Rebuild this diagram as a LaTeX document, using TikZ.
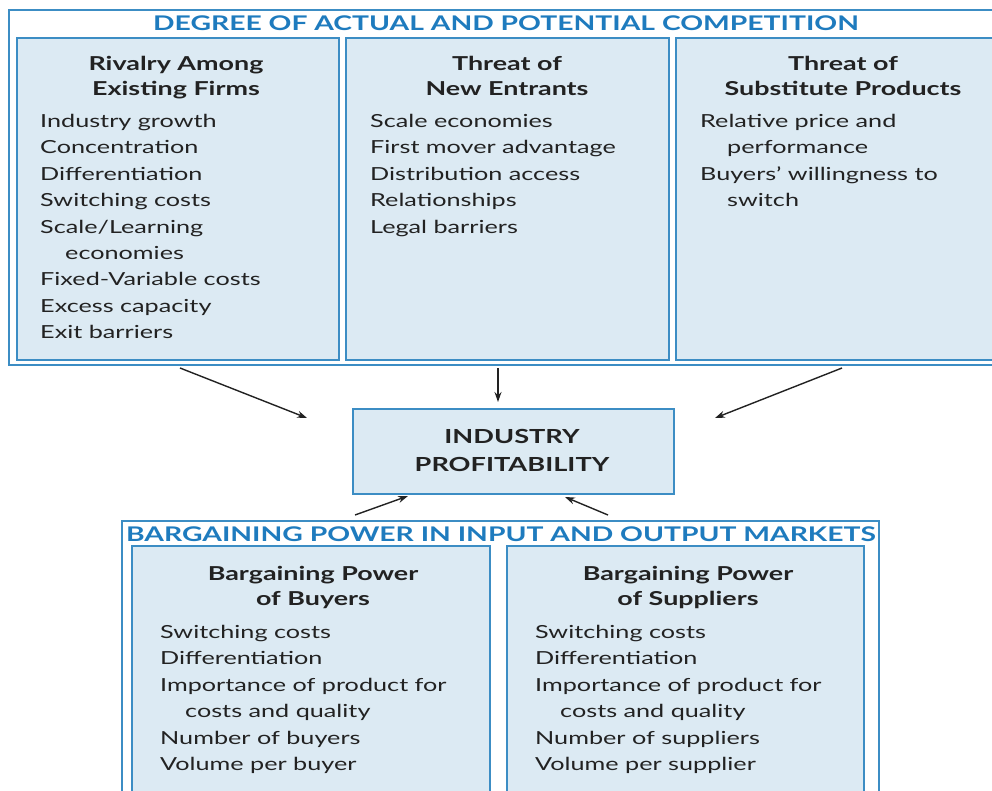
\documentclass[tikz,border=0pt]{standalone}
\usepackage{fontspec}
\setmainfont{Lato}[FakeStretch=1.4]
\usetikzlibrary{arrows.meta}

\definecolor{frameblue}{HTML}{3C8DC4}
\definecolor{headblue}{HTML}{1E7BBE}
\definecolor{panel}{HTML}{DCEAF3}
\definecolor{ink}{HTML}{222222}

\tikzset{
  outerframe/.style={draw=frameblue, line width=2.4pt, fill=white, inner sep=0pt, anchor=north west},
  panelbox/.style={draw=frameblue, line width=2pt, fill=panel, inner sep=0pt, anchor=north west},
  heading/.style={text=headblue, font=\fontsize{20.2}{22}\selectfont\bfseries, inner sep=0pt},
  paneltitle/.style={text=ink, font=\fontsize{19.2}{25.5}\selectfont\bfseries, align=center, inner sep=0pt, anchor=north},
  items/.style={text=ink, font=\fontsize{18}{26.4}\selectfont, align=left, inner sep=0pt, anchor=north west},
  arr/.style={draw=ink, line width=1.4pt, -{Stealth[length=10pt,width=7pt]}},
}

\begin{document}
\begin{tikzpicture}[x=1pt, y=-1pt]
\useasboundingbox (0,0) rectangle (992,791);
\clip (0,0) rectangle (992,791);

% ---- competition group ----
\node[outerframe, minimum width=990pt, minimum height=355pt] (compgroup) at (8,9) {};
\node[heading] (comphead) at (506,23) {DEGREE OF ACTUAL AND POTENTIAL COMPETITION};

\node[panelbox, minimum width=322pt, minimum height=322pt] (rival) at (16,37) {};
\node[panelbox, minimum width=323pt, minimum height=322pt] (entrants) at (345,37) {};
\node[panelbox, minimum width=320pt, minimum height=322pt] (substitutes) at (675,37) {};

\node[paneltitle] (rivalT) at (176,56) {Rivalry Among\\Existing Firms};
\node[items] (rivalL) at (40,114) {Industry growth\\Concentration\\Differentiation\\Switching costs\\Scale/Learning\\\hspace*{25pt}economies\\Fixed-Variable costs\\Excess capacity\\Exit barriers};

\node[paneltitle] (entrantsT) at (507,56) {Threat of\\New Entrants};
\node[items] (entrantsL) at (370,114) {Scale economies\\First mover advantage\\Distribution access\\Relationships\\Legal barriers};

\node[paneltitle] (substitutesT) at (843,56) {Threat of\\Substitute Products};
\node[items] (substitutesL) at (700,114) {Relative price and\\\hspace*{27pt}performance\\Buyers' willingness to\\\hspace*{27pt}switch};

% ---- central outcome ----
\node[panelbox, minimum width=321pt, minimum height=85pt] (profit) at (352,408) {};
\node[text=ink, font=\fontsize{19.4}{28}\selectfont\bfseries, align=center, inner sep=0pt] (profitT) at (512,450) {INDUSTRY\\PROFITABILITY};

% ---- bargaining group ----
\node[outerframe, minimum width=757pt, minimum height=280pt] (bargroup) at (121,520) {};
\node[heading] (barhead) at (501,534) {BARGAINING POWER IN INPUT AND OUTPUT MARKETS};

\node[panelbox, minimum width=358pt, minimum height=250pt] (buyers) at (131,545) {};
\node[panelbox, minimum width=357pt, minimum height=250pt] (suppliers) at (506,545) {};

\node[paneltitle] (buyersT) at (313,566) {Bargaining Power\\of Buyers};
\node[items] (buyersL) at (160,625) {Switching costs\\Differentiation\\Importance of product for\\\hspace*{25pt}costs and quality\\Number of buyers\\Volume per buyer};

\node[paneltitle] (suppliersT) at (688,566) {Bargaining Power\\of Suppliers};
\node[items] (suppliersL) at (535,625) {Switching costs\\Differentiation\\Importance of product for\\\hspace*{25pt}costs and quality\\Number of suppliers\\Volume per supplier};

% ---- connectors ----
\coordinate (rivalOut) at (180,368);
\coordinate (rivalIn) at (307,418);
\coordinate (entrantsOut) at (498,368);
\coordinate (entrantsIn) at (498,402);
\coordinate (substitutesOut) at (842,368);
\coordinate (substitutesIn) at (715,418);
\coordinate (buyersOut) at (355,515);
\coordinate (buyersIn) at (408,496);
\coordinate (suppliersOut) at (608,515);
\coordinate (suppliersIn) at (565,497);

\draw[arr] (rivalOut) -- (rivalIn);
\draw[arr] (entrantsOut) -- (entrantsIn);
\draw[arr] (substitutesOut) -- (substitutesIn);
\draw[arr] (buyersOut) -- (buyersIn);
\draw[arr] (suppliersOut) -- (suppliersIn);
\end{tikzpicture}
\end{document}
